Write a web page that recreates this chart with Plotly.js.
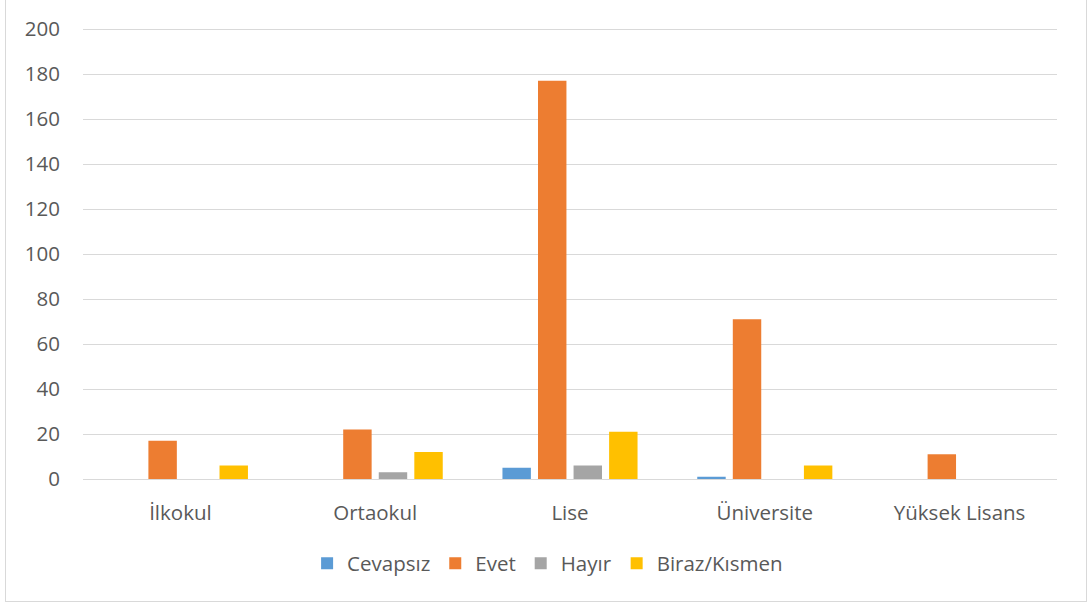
<!DOCTYPE html>
<html><head><meta charset="utf-8">
<script src="https://cdn.plot.ly/plotly-3.0.1.min.js"></script>
<style>
html,body{margin:0;padding:0;background:#fff;}
#frame{position:absolute;left:5px;top:0px;width:1080px;height:601px;border:1px solid #d9d9d9;border-top:none;box-sizing:content-box;}
#chart{position:absolute;left:0;top:0;width:1088px;height:605px;}
</style></head>
<body>
<div id="frame"></div>
<div id="chart"></div>
<script>
const categories = ["İlkokul", "Ortaokul", "Lise", "Üniversite", "Yüksek Lisans"];
const seriesNames = ["Cevapsız", "Evet", "Hayır", "Biraz/Kısmen"];
const cevapsiz = [0, 0, 5, 1, 0];
const evet = [17, 22, 177, 71, 11];
const hayir = [0, 3, 6, 0, 0];
const birazKismen = [6, 12, 21, 6, 0];
const colors = ["#5B9BD5", "#ED7D31", "#A5A5A5", "#FFC000"];
const yTicks = [0, 20, 40, 60, 80, 100, 120, 140, 160, 180, 200];

const values = [cevapsiz, evet, hayir, birazKismen];
const traces = values.map((v, i) => ({
  type: "bar",
  name: seriesNames[i],
  x: categories,
  y: v,
  marker: {color: colors[i]},
  hoverinfo: "x+y+name"
}));

const layout = {
  width: 1088, height: 605,
  margin: {l: 83, r: 31, t: 28, b: 126},
  paper_bgcolor: "rgba(0,0,0,0)",
  plot_bgcolor: "rgba(0,0,0,0)",
  barmode: "group",
  bargap: 0.27,
  bargroupgap: 0.2,
  font: {family: "Open Sans, sans-serif", size: 20, color: "#595959"},
  xaxis: {
    type: "category",
    showgrid: false,
    showline: false,
    zeroline: false,
    ticks: "",
    tickfont: {size: 20.5, color: "#595959"},
    ticklabelstandoff: 19
  },
  yaxis: {
    range: [0, 200.5],
    tickvals: yTicks,
    ticktext: yTicks.map(String),
    showgrid: true,
    gridcolor: "#d9d9d9",
    gridwidth: 1,
    zeroline: true,
    zerolinecolor: "#d9d9d9",
    zerolinewidth: 1,
    showline: false,
    ticks: "",
    tickfont: {size: 20.5, color: "#595959"},
    ticklabelstandoff: 22
  },
  showlegend: true,
  legend: {
    orientation: "h",
    x: 0.477, xanchor: "center",
    y: -0.187, yanchor: "middle",
    font: {size: 20.5, color: "#595959"},
    itemwidth: 30,
    traceorder: "normal"
  }
};

Plotly.newPlot("chart", traces, layout, {displayModeBar: false, staticPlot: true});
</script>
</body></html>
